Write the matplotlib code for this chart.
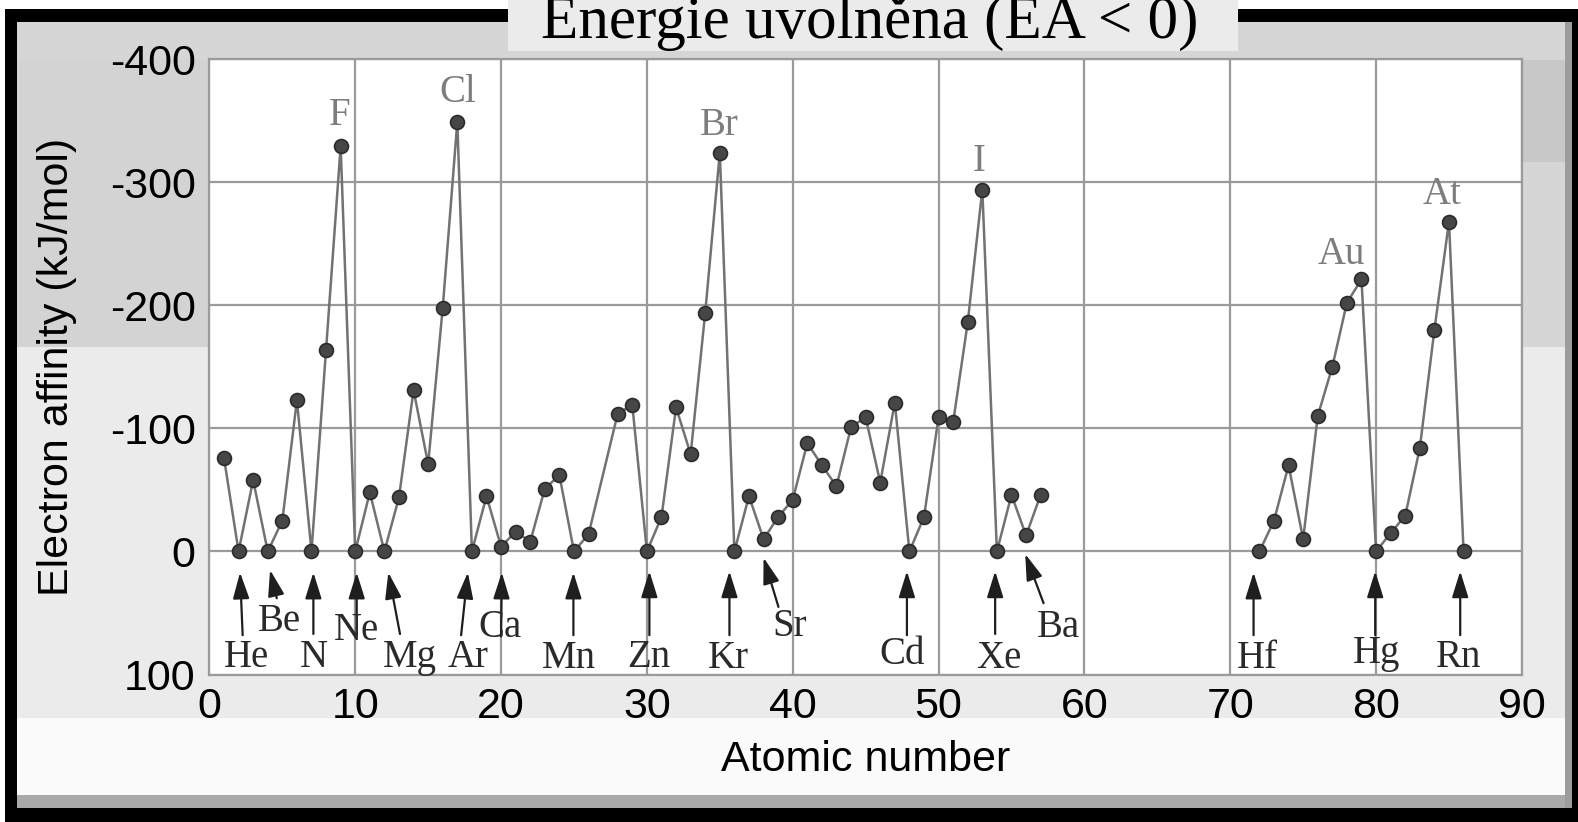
import matplotlib.pyplot as plt
from matplotlib.patches import Rectangle

plt.rcParams['font.family'] = 'Liberation Sans'

W, H = 1578, 822

# electron affinities (kJ/mol), two runs of elements
atomic_a = [1, 2, 3, 4, 5, 6, 7, 8, 9, 10, 11, 12, 13, 14, 15, 16, 17, 18, 19, 20,
            21, 22, 23, 24, 25, 26, 28, 29, 30, 31, 32, 33, 34, 35, 36, 37, 38, 39,
            40, 41, 42, 43, 44, 45, 46, 47, 48, 49, 50, 51, 52, 53, 54, 55, 56, 57]
ea_a = [-76, 0, -58, 0, -25, -123, 0, -164, -329, 0, -48, 0, -44, -131, -71, -198, -349, 0, -45, -4,
        -16, -8, -51, -62, 0, -14, -112, -119, 0, -28, -117, -79, -194, -324, 0, -45, -10, -28,
        -42, -88, -70, -53, -101, -109, -56, -121, 0, -28, -109, -105, -186, -294, 0, -46, -13, -46]
atomic_b = [72, 73, 74, 75, 76, 77, 78, 79, 80, 81, 82, 83, 84, 85, 86]
ea_b = [0, -25, -70, -10, -110, -150, -202, -221, 0, -15, -29, -84, -180, -268, 0]

y_ticks = [-400, -300, -200, -100, 0, 100]
y_tick_labels = ['-400', '-300', '-200', '-100', '0', '100']
x_ticks = [0, 10, 20, 30, 40, 50, 60, 70, 80, 90]

peak_names = ['F', 'Cl', 'Br', 'I', 'Au', 'At']
peak_xy = [(8.96, -354), (17.04, -373), (34.98, -346), (52.78, -317), (77.6, -241), (84.54, -290)]

low_names = ['He', 'Be', 'N', 'Ne', 'Mg', 'Ar', 'Ca', 'Mn', 'Zn', 'Kr', 'Sr', 'Cd', 'Xe', 'Ba', 'Hf', 'Hg', 'Rn']
low_text = [(2.56, 86), (4.77, 57), (7.13, 86), (10.1, 64), (13.76, 86), (17.76, 86), (19.93, 62),
            (24.62, 87), (30.1, 86), (35.59, 87), (39.82, 61), (47.48, 84), (54.1, 87), (58.2, 62),
            (71.83, 87), (80.06, 83), (85.66, 86)]
low_tail = [(2.28, 68), (4.62, 38), (7.13, 67), (10.1, 68), (13.07, 67), (17.26, 68), (20.0, 69),
            (24.96, 68), (30.17, 68), (35.66, 68), (39.02, 45), (47.83, 68), (53.88, 67), (57.2, 42),
            (71.6, 68), (79.94, 68), (85.77, 68)]
low_head = [(2.1, 17), (4.16, 15), (7.13, 17), (10.1, 17), (12.27, 17), (17.72, 17), (20.05, 17),
            (24.96, 17), (30.17, 16), (35.66, 16), (38.0, 5), (47.83, 16), (53.88, 16), (55.94, 2),
            (71.6, 17), (79.94, 16), (85.77, 16)]

fig = plt.figure(figsize=(W / 100, H / 100), dpi=100)


def box(x0, y0, x1, y1, color, z=-10):
    # pixel box (top-left origin) -> figure fraction
    fig.add_artist(Rectangle((x0 / W, 1 - y1 / H), (x1 - x0) / W, (y1 - y0) / H,
                             transform=fig.transFigure, facecolor=color, lw=0, zorder=z))


# frame and grey backdrop
box(5, 9, 1578, 822, 'black')
box(17, 22, 1572, 808, '#fafafa')
box(17, 22, 1572, 60, '#d6d6d6')
box(17, 60, 209, 347, '#d3d3d3')
box(17, 347, 209, 718, '#ebebeb')
box(209, 674, 1572, 718, '#ebebeb')
box(1522, 60, 1572, 162, '#c8c8c8')
box(1522, 162, 1572, 347, '#d6d6d6')
box(1522, 347, 1572, 718, '#ebebeb')
box(17, 795, 1572, 808, '#a9a9a9')
box(1565, 22, 1572, 808, '#9c9c9c')

# title banner
box(508, 0, 1238, 51, '#ebebeb', z=-5)
fig.text(870 / W, 1 - 38 / H, 'Energie uvolněna (EA < 0)', ha='center', va='baseline',
         fontsize=44, family='Liberation Serif', color='black')

ax = fig.add_axes([209.4 / W, 1 - 674.6 / H, (1521.9 - 209.4) / W, (674.6 - 59) / H])
ax.set_facecolor('white')

style = dict(color='#727272', lw=1.8, marker='o', ms=10, mfc='#464646', mec='#2b2b2b', mew=1.2)
ax.plot(atomic_a, ea_a, **style)
ax.plot(atomic_b, ea_b, **style)

ax.set_xlim(0, 90)
ax.set_ylim(100, -400)
ax.set_xticks(x_ticks)
ax.set_yticks(y_ticks)
ax.set_yticklabels(y_tick_labels)
ax.grid(color='#9a9a9a', lw=1.6)
ax.set_axisbelow(True)
ax.tick_params(length=0, labelsize=31)
ax.tick_params(axis='x', pad=9)
ax.tick_params(axis='y', pad=10)
for s in ax.spines.values():
    s.set_color('#9a9a9a')
    s.set_linewidth(1.6)

ax.set_xlabel('Atomic number', fontsize=31, va='center')
ax.xaxis.set_label_coords(0.5, -0.139)
ax.set_ylabel('Electron affinity (kJ/mol)', fontsize=31, va='center')
ax.yaxis.set_label_coords(-0.116, 0.5)

for name, (x, y) in zip(peak_names, peak_xy):
    ax.text(x, y, name, ha='center', va='center', fontsize=28,
            family='Liberation Serif', color='#7d7d7d')

for name, txt, tail, head in zip(low_names, low_text, low_tail, low_head):
    ax.annotate('', xy=head, xytext=tail,
                arrowprops=dict(arrowstyle='-|>,head_length=0.8,head_width=0.25',
                                color='#1e1e1e', lw=1.6, shrinkA=0, shrinkB=0,
                                mutation_scale=20))
    ax.text(txt[0], txt[1], name, ha='center', va='center', fontsize=28,
            family='Liberation Serif', color='#2a2a2a')

fig.savefig('out.png', dpi=100)
